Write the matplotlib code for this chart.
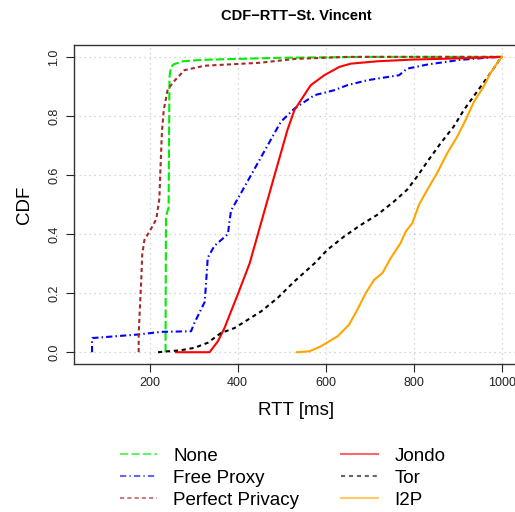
import matplotlib
matplotlib.use("Agg")
import matplotlib.pyplot as plt
from matplotlib.lines import Line2D

plt.rcParams['font.family'] = ['Liberation Sans', 'DejaVu Sans']

# RTT [ms] / CDF points
none_x = [236, 237, 243, 245, 248, 255, 275, 320, 500, 700, 1000]
none_y = [0.0, 0.46, 0.49, 0.93, 0.965, 0.975, 0.985, 0.99, 0.997, 1.0, 1.0]

proxy_x = [69, 69, 70, 174, 226, 294, 302, 325, 327, 332, 347, 378, 381, 385, 408, 438,
           468, 498, 529, 574, 619, 649, 695, 767, 785, 831, 906, 974, 1000]
proxy_y = [0.0, 0.04, 0.048, 0.06, 0.069, 0.071, 0.1, 0.17, 0.21, 0.32, 0.36, 0.40, 0.44,
           0.48, 0.54, 0.62, 0.70, 0.78, 0.825, 0.87, 0.887, 0.904, 0.921, 0.938, 0.96,
           0.974, 0.99, 0.998, 1.0]

pp_x = [175, 175, 181, 183, 188, 200, 215, 222, 225, 228, 232, 241, 257, 279, 325, 450,
        530, 650, 1000]
pp_y = [0.0, 0.065, 0.25, 0.33, 0.38, 0.41, 0.45, 0.52, 0.64, 0.75, 0.82, 0.89, 0.92,
        0.955, 0.97, 0.98, 0.993, 1.0, 1.0]

jondo_x = [260, 336, 355, 370, 400, 427, 453, 483, 513, 529, 566, 597, 631, 657, 717,
           800, 906, 1000]
jondo_y = [0.0, 0.0, 0.037, 0.082, 0.195, 0.30, 0.437, 0.595, 0.752, 0.82, 0.904, 0.938,
           0.966, 0.977, 0.985, 0.991, 0.995, 1.0]

tor_x = [219, 272, 302, 332, 362, 393, 423, 453, 491, 529, 574, 604, 642, 680, 717, 755,
         785, 808, 831, 861, 891, 914, 944, 974, 997, 1000]
tor_y = [0.0, 0.007, 0.015, 0.032, 0.065, 0.082, 0.11, 0.138, 0.184, 0.24, 0.30, 0.347,
         0.392, 0.431, 0.465, 0.51, 0.55, 0.595, 0.645, 0.707, 0.764, 0.82, 0.882, 0.944,
         0.994, 1.0]

i2p_x = [535, 563, 589, 627, 653, 672, 691, 710, 729, 748, 770, 782, 797, 812, 831, 853,
         876, 899, 918, 937, 959, 974, 989, 1000]
i2p_y = [0.0, 0.003, 0.02, 0.054, 0.093, 0.144, 0.20, 0.245, 0.268, 0.319, 0.369, 0.409,
         0.437, 0.499, 0.55, 0.606, 0.673, 0.73, 0.786, 0.848, 0.899, 0.944, 0.977, 1.0]

labels = ['None', 'Free Proxy', 'Perfect Privacy', 'Jondo', 'Tor', 'I2P']
colors = ['#00ee00', '#0000ff', '#a52a2a', '#ff0000', '#000000', '#ffa500']
styles = [(0, (4, 1.5)), (0, (3, 1.5, 0.7, 1.5)), (0, (2, 1.5)), '-', (0, (2, 1.8)), '-']
series = [(none_x, none_y), (proxy_x, proxy_y), (pp_x, pp_y),
          (jondo_x, jondo_y), (tor_x, tor_y), (i2p_x, i2p_y)]

fig = plt.figure(figsize=(5.15, 5.12), dpi=100)
ax = fig.add_axes([0.1437, 0.289, 0.862, 0.623])

for (x, y), c, ls in zip(series, colors, styles):
    ax.plot(x, y, color=c, linestyle=ls, linewidth=1.5)

ax.set_xlim(28, 1037)
ax.set_ylim(-0.04, 1.04)
ax.set_xticks([200, 400, 600, 800, 1000])
ax.set_yticks([0, 0.2, 0.4, 0.6, 0.8, 1.0])
ax.set_yticklabels(['0.0', '0.2', '0.4', '0.6', '0.8', '1.0'], rotation=90, va='center')
ax.grid(True, color='#c8c8c8', linestyle=(0, (1, 3)), linewidth=0.9)
ax.tick_params(direction='out', length=6, width=0.8, labelsize=9, colors='#222222')
ax.tick_params(axis='y', pad=4)
for s in ax.spines.values():
    s.set_color('#333333')
    s.set_linewidth(1.0)

ax.set_xlabel('RTT [ms]', fontsize=13.5, labelpad=9)
ax.set_ylabel('CDF', fontsize=13.5, labelpad=11)
ax.set_title('CDF\u2212RTT\u2212St. Vincent', fontsize=10.5, fontweight='bold', pad=18)

handles = [Line2D([0], [0], color=c, linestyle=ls, linewidth=1.5, alpha=0.6)
           for c, ls in zip(colors, styles)]
fig.legend(handles, labels, ncol=2, frameon=False, fontsize=13.5,
           loc='upper left', bbox_to_anchor=(0.219, 0.1406),
           handlelength=1.97, handletextpad=0.85, columnspacing=2.25,
           labelspacing=0.26, borderaxespad=0)

fig.savefig('out.png', dpi=100)
